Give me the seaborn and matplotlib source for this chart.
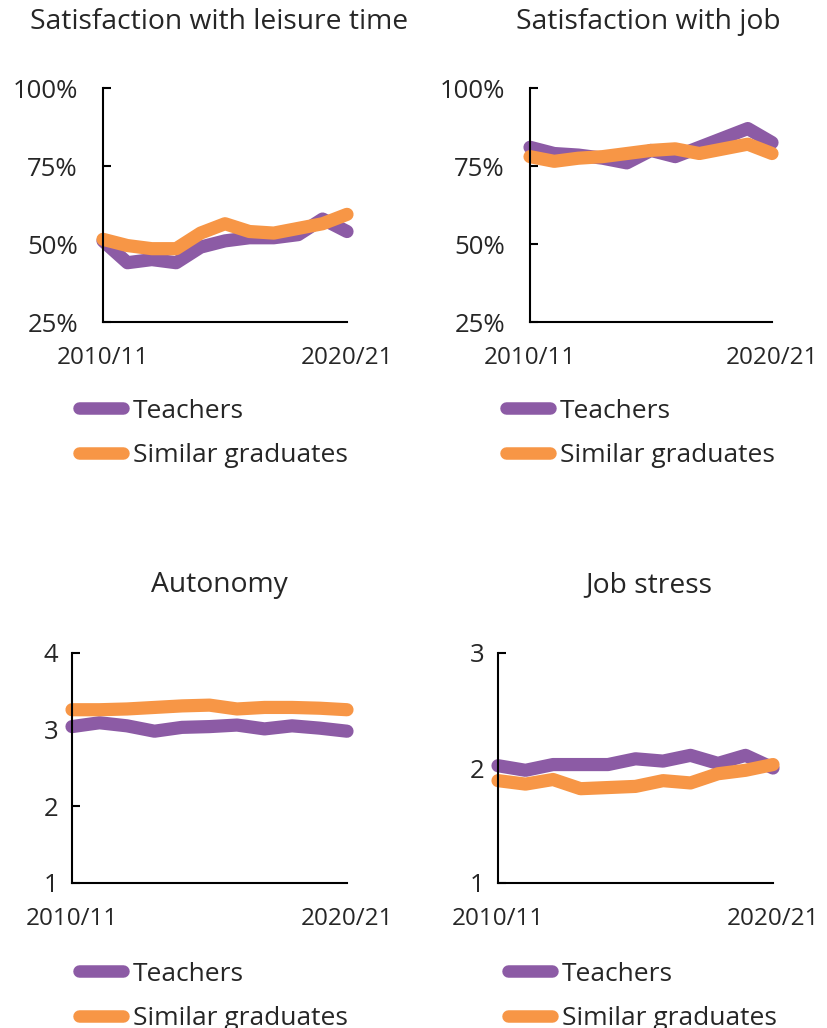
import pandas as pd
import numpy as np
import seaborn as sns
import matplotlib.pyplot as plt
from matplotlib.lines import Line2D

sns.set_style("white")
plt.rcParams['font.family'] = ['Open Sans', 'DejaVu Sans']

years = ['2010/11', '2011/12', '2012/13', '2013/14', '2014/15', '2015/16',
         '2016/17', '2017/18', '2018/19', '2019/20', '2020/21']

# valeurs
leisure_teachers = [51, 44, 45, 44, 49, 51, 52, 52, 53, 58, 54]
leisure_grads = [51.5, 49.5, 48.5, 48.5, 53.5, 56.5, 54, 53.5, 55, 56.5, 59.5]
job_teachers = [81, 79, 78.5, 77.5, 76, 80, 78, 81, 84, 87, 82.5]
job_grads = [78, 76.5, 77.5, 78, 79, 80, 80.5, 79, 80.5, 82, 79]
autonomy_teachers = [3.04, 3.09, 3.05, 2.98, 3.03, 3.04, 3.06, 3.01, 3.05, 3.02, 2.98]
autonomy_grads = [3.26, 3.26, 3.27, 3.29, 3.31, 3.32, 3.27, 3.29, 3.29, 3.28, 3.26]
stress_teachers = [2.02, 1.98, 2.03, 2.03, 2.03, 2.08, 2.06, 2.11, 2.04, 2.11, 2.0]
stress_grads = [1.89, 1.86, 1.90, 1.82, 1.83, 1.84, 1.89, 1.87, 1.95, 1.98, 2.03]

titles = ['Satisfaction with leisure time', 'Satisfaction with job', 'Autonomy', 'Job stress']
series_names = ['Teachers', 'Similar graduates']
purple = '#8c5ba5'
orange = '#f79646'

panels = [
    (leisure_teachers, leisure_grads, [25, 50, 75, 100], True),
    (job_teachers, job_grads, [25, 50, 75, 100], True),
    (autonomy_teachers, autonomy_grads, [1, 2, 3, 4], False),
    (stress_teachers, stress_grads, [1, 2, 3], False),
]

# positions des axes en pixels (gauche, haut, droite, bas)
W, H = 828, 1028
boxes = [(103, 88, 347, 322), (530, 88, 772, 322), (72, 653, 347, 883), (498, 653, 773, 883)]
title_pos = [(219, 22), (648, 22), (219, 585), (649, 585)]
legend_pos = [(68, 388), (495, 388), (68, 951), (497, 951)]
ypads = [18, 18, 10, 10]

fig = plt.figure(figsize=(W / 100, H / 100), dpi=100)

for i, (teach, grads, yt, pct) in enumerate(panels):
    l, t, r, b = boxes[i]
    ax = fig.add_axes([l / W, 1 - b / H, (r - l) / W, (b - t) / H])
    df = pd.DataFrame({'year': np.arange(len(years)), 'Teachers': teach, 'Similar graduates': grads})
    sns.lineplot(data=df, x='year', y='Teachers', color=purple, lw=9.5, ax=ax, clip_on=False)
    sns.lineplot(data=df, x='year', y='Similar graduates', color=orange, lw=9.5, ax=ax, clip_on=False)
    ax.set_xlim(0, len(years) - 1)
    ax.set_ylim(yt[0], yt[-1])
    ax.set_yticks(yt)
    if pct:
        ax.set_yticklabels([f'{v}%' for v in yt])
    ax.set_xticks([0, len(years) - 1])
    ax.set_xticklabels([years[0], years[-1]])
    ax.set_xlabel('')
    ax.set_ylabel('')
    for s in ['top', 'right']:
        ax.spines[s].set_visible(False)
    for s in ['left', 'bottom']:
        ax.spines[s].set_color('black')
        ax.spines[s].set_linewidth(1.5)
    ax.tick_params(axis='y', direction='in', length=6, width=1.5, color='black',
                   labelsize=18.5, pad=ypads[i], left=True)
    ax.tick_params(axis='x', length=0, labelsize=17.5, pad=17)
    ax.grid(False)
    if ax.get_legend():
        ax.get_legend().remove()

    fig.text(title_pos[i][0] / W, 1 - title_pos[i][1] / H, titles[i], ha='center', va='center', fontsize=20.3)

    handles = [Line2D([0], [0], color=purple, lw=9, solid_capstyle='round'),
               Line2D([0], [0], color=orange, lw=9, solid_capstyle='round')]
    fig.legend(handles, series_names, loc='upper left',
               bbox_to_anchor=(legend_pos[i][0] / W, 1 - legend_pos[i][1] / H),
               frameon=False, fontsize=19, handlelength=1.7, handletextpad=0.35,
               labelspacing=0.75, borderaxespad=0)

fig.savefig('out.png', dpi=100)
